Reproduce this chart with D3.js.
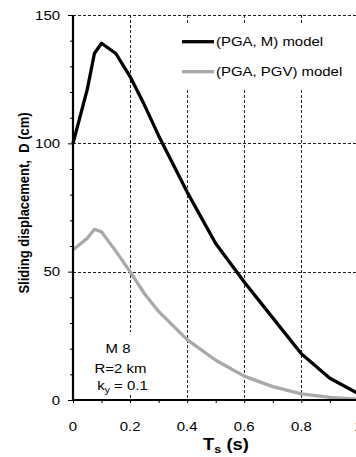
<!DOCTYPE html>
<html><head><meta charset="utf-8">
<script src="https://cdn.jsdelivr.net/npm/d3@7"></script>
<style>
html,body{margin:0;padding:0;background:#fff;}
svg{display:block;font-family:"Liberation Sans",Arial,sans-serif;}
</style></head>
<body><div id="chart"></div>
<script>
const periods = [0, 0.05, 0.075, 0.1, 0.15, 0.2, 0.25, 0.3, 0.4, 0.5, 0.6, 0.7, 0.8, 0.9, 1.0];
const pgaM   = [100, 121, 135, 139, 135, 126, 115, 103, 81, 61, 46, 32, 18, 8.5, 2.5];
const pgaPGV = [58.5, 63, 66.5, 65.5, 58, 50, 41.5, 34.5, 23.5, 15.5, 9.3, 5.2, 2.4, 1.0, 0.3];
const seriesNames = ["(PGA, M) model", "(PGA, PGV) model"];
const xTicks = [0, 0.2, 0.4, 0.6, 0.8, 1];
const yTicks = [0, 50, 100, 150];
const annot = ["M 8", "R=2 km", "k_y = 0.1"];

const W = 356, H = 457;
const SX = 1.15;
const svg = d3.select("#chart").append("svg").attr("width", W).attr("height", H);
const x = d3.scaleLinear().domain([0, 1]).range([73, 358.4]);
const y = d3.scaleLinear().domain([0, 150]).range([400, 15]);

function stext(g, px, py, anchor, size, weight) {
  return g.append("text")
    .attr("transform", `translate(${px},${py}) scale(${SX},1)`)
    .attr("text-anchor", anchor)
    .attr("font-size", size).attr("font-weight", weight || "normal")
    .attr("fill", "#000");
}

// grid
const gridG = svg.append("g");
xTicks.filter(d => d > 0 && d < 1).forEach(d => {
  const px = Math.round(x(d)) + 0.5;
  gridG.append("line").attr("x1", px).attr("x2", px).attr("y1", y(150)).attr("y2", y(0))
    .attr("stroke", "#222").attr("stroke-width", 1).attr("stroke-dasharray", "3,2");
});
yTicks.filter(d => d > 0).forEach(d => {
  const py = Math.round(y(d)) + 0.5;
  gridG.append("line").attr("x1", x(0)).attr("x2", W).attr("y1", py).attr("y2", py)
    .attr("stroke", "#222").attr("stroke-width", 1).attr("stroke-dasharray", "3,2");
});

// white boxes (legend + annotation)
svg.append("rect").attr("x", 176).attr("y", 25).attr("width", W - 176).attr("height", 65).attr("fill", "#fff");
svg.append("rect").attr("x", 96).attr("y", 332).attr("width", 52).attr("height", 61).attr("fill", "#fff");

// curves
const line = d3.line().x((d, i) => x(periods[i])).y(d => y(d));
svg.append("path").datum(pgaPGV).attr("d", line).attr("fill", "none")
  .attr("stroke", "#a8a8a8").attr("stroke-width", 3.3).attr("stroke-linejoin", "round");
svg.append("path").datum(pgaM).attr("d", line).attr("fill", "none")
  .attr("stroke", "#000").attr("stroke-width", 3.3).attr("stroke-linejoin", "round");

// axes
const yAxisG = svg.append("g").attr("transform", `translate(${x(0)},0)`);
yAxisG.call(d3.axisLeft(y).tickValues(d3.range(0, 151, 10)).tickSize(3).tickFormat(""));
yAxisG.select(".domain").remove();
yAxisG.selectAll(".tick line").attr("stroke", "#000").attr("stroke-width", 1);
yAxisG.selectAll(".tick").filter(d => d % 50 === 0).select("line").attr("x2", -5);
svg.append("line").attr("x1", x(0)).attr("x2", x(0)).attr("y1", y(150)).attr("y2", y(0) + 1)
  .attr("stroke", "#000").attr("stroke-width", 2.2);

const xAxisG = svg.append("g").attr("transform", `translate(0,${y(0)})`);
xAxisG.call(d3.axisBottom(x).tickValues(d3.range(0, 11).map(i => i / 10)).tickSize(3).tickFormat(""));
xAxisG.select(".domain").remove();
xAxisG.selectAll(".tick line").attr("stroke", "#000").attr("stroke-width", 1);
svg.append("line").attr("x1", x(0) - 1).attr("x2", W).attr("y1", y(0)).attr("y2", y(0))
  .attr("stroke", "#000").attr("stroke-width", 2.2);

// tick labels
yTicks.forEach(v => stext(svg, 60, y(v) + 4.5, "end", 13).text(v));
xTicks.forEach(v => stext(svg, x(v), 431, "middle", 13).text(d3.format("")(v)));

// axis titles
const xt = stext(svg, 226, 450, "middle", 16, "bold");
xt.append("tspan").text("T");
xt.append("tspan").attr("font-size", 11).attr("dy", 3).text("s");
xt.append("tspan").attr("dy", -3).text(" (s)");

svg.append("text")
  .attr("transform", `translate(29,203) rotate(-90) scale(1,${SX})`)
  .attr("text-anchor", "middle").attr("font-size", 13).attr("font-weight", "bold")
  .attr("xml:space", "preserve")
  .text("Sliding displacement,  D (cm)");

// legend
const legY = [41.7, 71.7];
const legColors = ["#000", "#a8a8a8"];
seriesNames.forEach((n, i) => {
  svg.append("line").attr("x1", 182).attr("x2", 214).attr("y1", legY[i]).attr("y2", legY[i])
    .attr("stroke", legColors[i]).attr("stroke-width", 3.3);
  stext(svg, 216, legY[i] + 4.5, "start", 13).text(n);
});

// annotation
stext(svg, 118, 353.3, "middle", 13).text(annot[0]);
stext(svg, 120.5, 373, "middle", 13).text(annot[1]);
const ky = stext(svg, 122.5, 390, "middle", 13);
const parts = annot[2].split("_");
ky.append("tspan").text(parts[0]);
ky.append("tspan").attr("font-size", 9).attr("dy", 3).text(parts[1].charAt(0));
ky.append("tspan").attr("dy", -3).text(parts[1].slice(1));
</script></body></html>
